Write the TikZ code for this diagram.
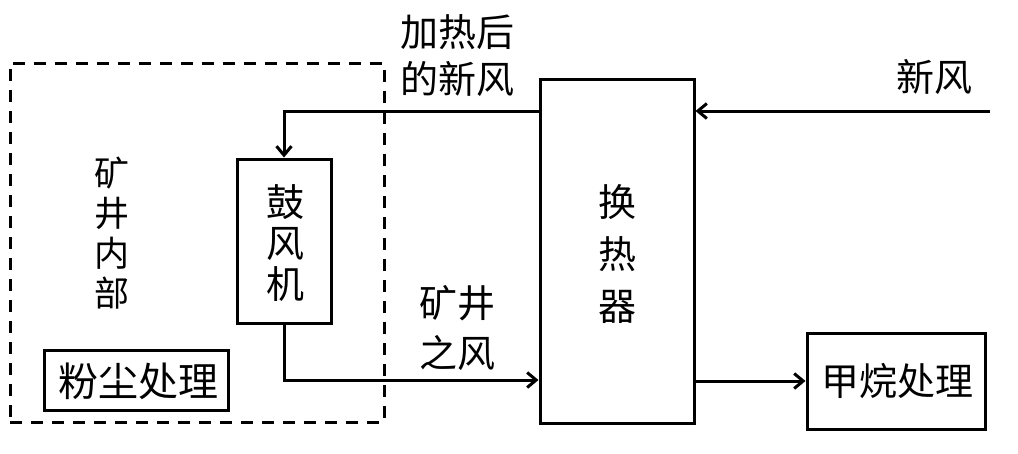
\documentclass[tikz,border=0pt]{standalone}
\usepackage{fontspec}
\newfontfamily\cjk{Noto Sans CJK SC}
\usetikzlibrary{arrows.meta}
\begin{document}
\begin{tikzpicture}[x=1pt,y=-1pt,
  box/.style={draw, line width=3pt, inner sep=0pt},
  lbl/.style={font=\cjk\fontsize{38}{47}\selectfont, align=center, inner sep=0pt},
  conn/.style={line width=3pt},
  arr/.style={conn, -{Straight Barb[length=9pt,width=15pt,line width=3pt]}}]
\useasboundingbox (0,0) rectangle (1018,453);
% dashed region
\node[draw, line width=3pt, dash pattern=on 12pt off 9pt, minimum width=374pt, minimum height=359pt, inner sep=0pt] (mine) at (197,242.5) {};
\node[lbl, font=\cjk\fontsize{35}{40}\selectfont] (minetxt) at (112,233) {矿\\井\\内\\部};
\node[box, minimum width=94pt, minimum height=164pt] (fan) at (284,241) {};
\node[lbl, font=\cjk\fontsize{38}{41}\selectfont] (fantxt) at (285,243) {鼓\\风\\机};
\node[box, minimum width=184pt, minimum height=60pt] (dust) at (136,380) {};
\node[lbl, font=\cjk\fontsize{40}{47}\selectfont] (dusttxt) at (138,381) {粉尘处理};
\node[box, minimum width=154pt, minimum height=344pt] (hx) at (617,251) {};
\node[lbl, font=\cjk\fontsize{38}{52}\selectfont] (hxtxt) at (617,254) {换\\热\\器};
\node[box, minimum width=178pt, minimum height=96pt] (ch4) at (896,381) {};
\node[lbl] (ch4txt) at (897,381) {甲烷处理};
% labels
\node[lbl] (hot) at (457,56) {加热后\\的新风};
\node[lbl] (fresh) at (934,77) {新风};
\node[lbl, font=\cjk\fontsize{38}{50}\selectfont] (minewind) at (457,328) {矿井\\之风};
% connectors
\coordinate (inlet) at (990,111);
\coordinate (hxout) at (hx.west |- inlet);
\coordinate (hxin) at (hx.west |- 0,380);
\draw[arr] (inlet) -- (inlet -| hx.east);
\draw[arr] (hxout) -| (fan.north);
\draw[arr] (fan.south) |- (hxin);
\draw[arr] (hx.east |- ch4.west) -- (ch4.west);
\end{tikzpicture}
\end{document}
